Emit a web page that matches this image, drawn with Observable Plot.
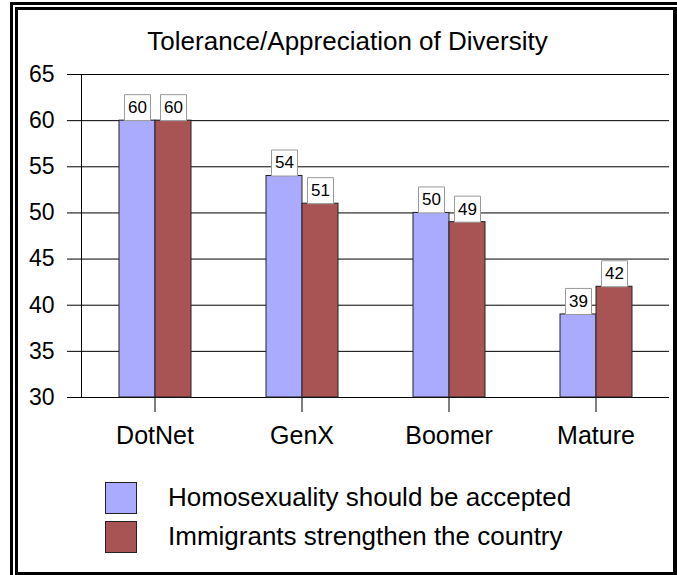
<!DOCTYPE html>
<html>
<head>
<meta charset="utf-8">
<script src="https://cdn.jsdelivr.net/npm/d3@7"></script>
<script src="https://cdn.jsdelivr.net/npm/@observablehq/plot@0.6"></script>
<style>
  html, body { margin: 0; padding: 0; background: white; }
  body { font-family: "Liberation Sans", Arial, sans-serif; }
  #wrap { position: relative; width: 677px; height: 575px; overflow: hidden; background: white; }
  .line { position: absolute; background: black; }
  #frame { position: absolute; left: 15px; top: 7px; width: 655px; height: 562px; border: 3px solid black; border-right-width: 4px; }
  #title { position: absolute; left: 0; width: 695px; top: 28px; text-align: center; font-size: 26px; line-height: 26px; color: black; white-space: nowrap; }
  #chart { position: absolute; left: 0; top: 0; }
  #legend { position: absolute; left: 105px; top: 482px; }
  .item { position: absolute; left: 0; height: 32px; white-space: nowrap; }
  .sw { position: absolute; left: 0; top: 0; width: 30px; height: 30px; border: 1px solid #222; }
  .lab { position: absolute; left: 63px; top: 2px; font-size: 26px; line-height: 26px; color: black; }
  [aria-label^="fx-axis"] text { font-size: 25px; }
  [aria-label^="y-axis"] text { font-size: 23px; }
</style>
</head>
<body>
<div id="wrap">
  <div class="line" style="left:10px;top:2px;width:667px;height:3px"></div>
  <div class="line" style="left:10px;top:2px;width:3px;height:573px"></div>
  <div id="frame"></div>
  <div id="title"></div>
  <div id="chart"></div>
  <div id="legend"></div>
</div>
<script>
const title = "Tolerance/Appreciation of Diversity";
const categories = ["DotNet", "GenX", "Boomer", "Mature"];
const seriesNames = ["Homosexuality should be accepted", "Immigrants strengthen the country"];
const homosexualityAccepted = [60, 54, 50, 39];
const immigrantsStrengthen = [60, 51, 49, 42];
const yTicks = [30, 35, 40, 45, 50, 55, 60, 65];
const yDomain = [30, 65];
const colors = ["#aaaaff", "#a85454"];

const seriesValues = [homosexualityAccepted, immigrantsStrengthen];
const rows = [];
categories.forEach((c, i) => {
  seriesNames.forEach((s, j) => rows.push({cat: c, series: s, value: seriesValues[j][i]}));
});

document.getElementById("title").textContent = title;

const plot = Plot.plot({
  width: 677,
  height: 460,
  marginTop: 74,
  marginBottom: 63,
  marginLeft: 80,
  marginRight: 7,
  style: {background: "transparent", fontFamily: "'Liberation Sans', Arial, sans-serif", color: "black", overflow: "visible"},
  facet: {data: rows, x: "cat"},
  fx: {domain: categories, paddingInner: 0, paddingOuter: 0, tickSize: 15, tickPadding: 14, label: null},
  x: {domain: seriesNames, paddingInner: 0, paddingOuter: 1, axis: null},
  y: {domain: yDomain, ticks: yTicks, tickSize: 14, tickPadding: 13, label: null, line: true},
  color: {domain: seriesNames, range: colors},
  marks: [
    Plot.ruleY(yTicks, {stroke: "black", strokeWidth: 1, facet: false}),
    Plot.barY(rows, {x: "series", y1: yDomain[0], y2: "value", fill: "series", stroke: "#222", strokeWidth: 1}),
    Plot.dot(rows, {x: "series", y: "value", symbol: "square", r: 14.67, dy: -13, fill: "white", stroke: "#999", strokeWidth: 1}),
    Plot.text(rows, {x: "series", y: "value", text: d => String(d.value), dy: -13, fontSize: 17, fill: "black"})
  ]
});
document.getElementById("chart").appendChild(plot);

const legend = document.getElementById("legend");
seriesNames.forEach((s, i) => {
  const item = document.createElement("div");
  item.className = "item";
  item.style.top = (i * 39) + "px";
  const sw = document.createElement("div");
  sw.className = "sw";
  sw.style.background = colors[i];
  const lab = document.createElement("div");
  lab.className = "lab";
  lab.textContent = s;
  item.appendChild(sw);
  item.appendChild(lab);
  legend.appendChild(item);
});
</script>
</body>
</html>
